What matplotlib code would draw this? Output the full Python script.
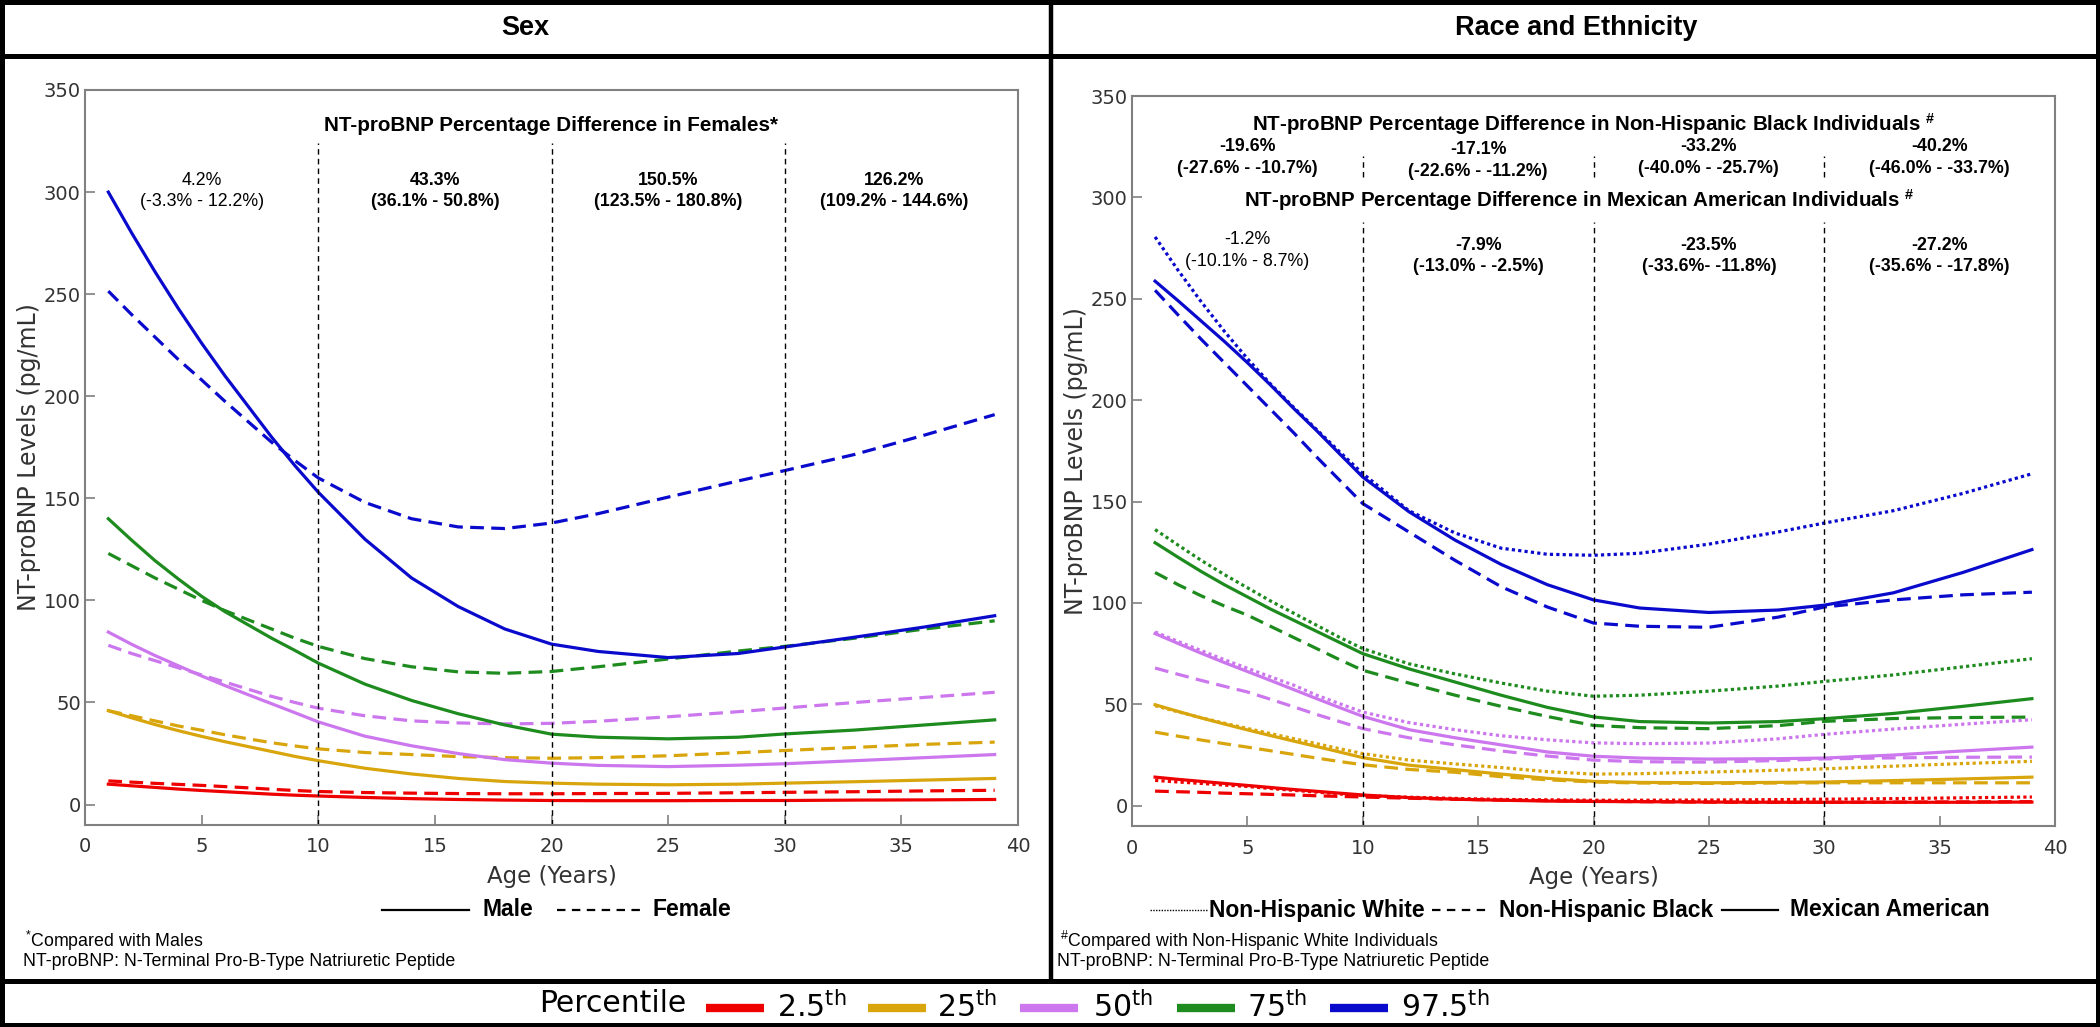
import matplotlib
matplotlib.use('Agg')
import matplotlib.pyplot as plt

plt.rcParams['mathtext.default'] = 'regular'

ages = [1, 2, 3, 4, 5, 6, 7, 8, 9, 10, 12, 14, 16, 18, 20, 22, 25, 28, 30, 33, 36, 39]

# Sex panel (pg/mL), solid = male, dashed = female
male_p2_5 = [10, 9.2, 8.4, 7.6, 6.9, 6.3, 5.7, 5.1, 4.6, 4.2, 3.5, 2.9, 2.5, 2.2, 2.0, 1.9, 1.9, 2.0, 2.0, 2.2, 2.3, 2.5]
female_p2_5 = [11.6, 11, 10.4, 9.9, 9.4, 8.8, 8.2, 7.5, 6.9, 6.4, 5.9, 5.6, 5.4, 5.3, 5.3, 5.4, 5.5, 5.8, 6.0, 6.3, 6.7, 7.0]
male_p25 = [46, 42.5, 39.2, 36.2, 33.4, 30.8, 28.4, 26, 23.6, 21.5, 17.8, 15, 12.8, 11.3, 10.5, 10, 9.7, 10, 10.5, 11.2, 12, 12.8]
female_p25 = [46, 43.5, 41, 38.5, 36.4, 34.2, 32.2, 30.3, 28.7, 27.3, 25.5, 24.5, 23.5, 23, 22.7, 23, 23.9, 25.4, 26.5, 28, 29.5, 30.6]
male_p50 = [84.5, 78.5, 73, 68, 63, 58.3, 53.8, 49.4, 45, 40.5, 33.5, 28.8, 25, 22, 20.3, 19.2, 18.6, 19.3, 20, 21.5, 23, 24.5]
female_p50 = [78, 74, 70.5, 67, 63.5, 60, 56.5, 53, 50, 47.2, 43.5, 41, 40, 39.5, 39.8, 40.8, 43, 45.5, 47.3, 50, 52.5, 55]
male_p75 = [140, 129.5, 119.5, 110.5, 102, 94.5, 88, 81.5, 75.5, 69.3, 59, 51, 44.5, 39, 34.5, 33, 32.2, 33, 34.6, 36.5, 39, 41.5]
female_p75 = [123, 117, 111, 105.5, 100, 95, 90.5, 86, 81.5, 77.5, 71.5, 67.5, 65, 64.3, 65.2, 67.5, 71.3, 75.2, 77.5, 81.5, 86, 90]
male_p97_5 = [300, 280, 261, 243, 226, 210, 195, 180, 166, 153, 130, 111, 97, 86, 78.6, 75, 72, 74, 77.2, 82, 87, 92.5]
female_p97_5 = [251.5, 240, 229, 218, 208, 197.5, 187.5, 177.5, 168.5, 160, 148, 140, 136, 135.2, 137.9, 142.5, 150.6, 158.5, 163.6, 171.5, 181, 191]

# Race and ethnicity panel: dotted = NH White, dashed = NH Black, solid = Mexican American
nhw_p2_5 = [12.5, 11.7, 11, 10.2, 9.5, 8.5, 7.6, 6.7, 5.8, 5.0, 4.2, 3.6, 3.1, 2.9, 2.7, 2.7, 2.8, 3.0, 3.2, 3.5, 3.9, 4.3]
nhb_p2_5 = [7.2, 6.9, 6.6, 6.2, 5.9, 5.6, 5.3, 4.9, 4.6, 4.3, 3.7, 3.2, 2.8, 2.5, 2.2, 2.0, 1.8, 1.7, 1.7, 1.8, 1.9, 2.0]
ma_p2_5 = [14.1, 13, 12, 11, 10, 9, 8, 7.1, 6.2, 5.3, 4.0, 3.2, 2.7, 2.3, 2.1, 2.0, 1.8, 1.7, 1.7, 1.7, 1.7, 1.8]
nhw_p25 = [49.3, 46.3, 43.4, 40.7, 38.1, 35.6, 33.1, 30.6, 28.1, 25.7, 22.5, 20.6, 18.8, 16.8, 15.6, 15.8, 16.6, 17.5, 18.2, 19.5, 20.8, 21.9]
nhb_p25 = [36.3, 34.3, 32.4, 30.6, 28.9, 27.1, 25.3, 23.5, 21.8, 20.2, 17.9, 16.5, 14.3, 12.8, 11.7, 11.2, 11, 11.2, 11.3, 11.3, 11.3, 11.3]
ma_p25 = [49.8, 46.5, 43.3, 40.3, 37.4, 34.6, 31.9, 29.2, 26.5, 23.7, 20, 17.8, 15.6, 13.5, 12, 11.5, 11.3, 11.5, 11.7, 12.4, 13.2, 14.1]
nhw_p50 = [85.7, 81, 76.5, 72, 67.8, 63.6, 59.5, 54.5, 50.3, 46.2, 41, 37.5, 34.5, 32.5, 31, 30.6, 30.9, 33, 35.2, 37.8, 40.2, 42.4]
nhb_p50 = [67.9, 64.8, 61.8, 58.9, 56.1, 52.5, 48.8, 45, 41.5, 38, 33.5, 30, 27, 24.5, 22.5, 21.7, 21.5, 22.3, 23.1, 23.6, 23.9, 24]
ma_p50 = [84.9, 80, 75.2, 70.6, 66.2, 61.8, 57.3, 52.8, 48.4, 44.1, 37.5, 33.5, 30, 26.5, 24.4, 23.5, 23, 23.2, 23.5, 25, 27, 28.9]
nhw_p75 = [136.2, 128.5, 121, 114, 107.5, 101, 95, 89, 83, 77.5, 70, 65, 60.5, 56.5, 54, 54.5, 56.5, 59, 61.3, 64.5, 68.5, 72.5]
nhb_p75 = [115, 109, 103.5, 98.5, 94, 88.5, 83, 77.5, 72, 66.8, 60.5, 54.5, 49, 44, 39.6, 38.5, 38, 39.5, 41.6, 43, 43.5, 43.7]
ma_p75 = [129.7, 122.5, 115.5, 109, 103, 97, 91.5, 86, 80.5, 75, 67.5, 61, 54.5, 48.5, 43.8, 41.5, 40.8, 41.5, 42.9, 45.5, 49, 52.8]
nhw_p97_5 = [280.5, 264, 248.5, 234, 220.5, 208, 196.5, 185.5, 174.5, 163.8, 145.5, 134.5, 127, 124, 123.5, 124.5, 129, 135, 139.4, 145.5, 154, 163.7]
nhb_p97_5 = [254.2, 242, 230, 218.5, 207, 195.5, 184, 172, 160.5, 149, 135, 121, 108, 98, 90.1, 88.5, 88, 93, 98, 101.5, 104, 105.3]
ma_p97_5 = [258.7, 249, 239, 229, 218.5, 207.5, 196, 185, 173.5, 162.1, 145, 131, 119, 109, 101.5, 97.5, 95.3, 96.5, 98.9, 105, 115, 126.3]

cut_ages = [10, 20, 30]
percentile_labels = ['2.5', '25', '50', '75', '97.5']
colors = ['#EE0000', '#D9A50D', '#CC77EE', '#1E8B1E', '#0A0ACD']

sex_cols = [5, 15, 25, 34.7]
sex_pct = ['4.2%', '43.3%', '150.5%', '126.2%']
sex_ci = ['(-3.3% - 12.2%)', '(36.1% - 50.8%)', '(123.5% - 180.8%)', '(109.2% - 144.6%)']
race_cols = [5, 15, 25, 35]
nhb_pct = ['-19.6%', '-17.1%', '-33.2%', '-40.2%']
nhb_ci = ['(-27.6% - -10.7%)', '(-22.6% - -11.2%)', '(-40.0% - -25.7%)', '(-46.0% - -33.7%)']
ma_pct = ['-1.2%', '-7.9%', '-23.5%', '-27.2%']
ma_ci = ['(-10.1% - 8.7%)', '(-13.0% - -2.5%)', '(-33.6%- -11.8%)', '(-35.6% - -17.8%)']

W, H = 2100, 1027
fig = plt.figure(figsize=(21, 10.27), dpi=100)

# frame axes in pixel coordinates (y down)
fr = fig.add_axes([0, 0, 1, 1])
fr.set_xlim(0, W)
fr.set_ylim(H, 0)
fr.axis('off')

AR = 'Liberation Sans'
DASH = (0, (4.3, 2.3))
DOT = (0, (1, 1))
LW = 2.3


def style_axes(ax):
    ax.set_xlim(0, 40)
    ax.set_ylim(-10, 350)
    ax.set_xticks(range(0, 41, 5))
    ax.set_yticks(range(0, 351, 50))
    for s in ax.spines.values():
        s.set_color('#808080')
        s.set_linewidth(1.5)
    ax.tick_params(direction='in', length=7, width=1.2, color='#808080',
                   labelsize=14, labelcolor='#333333')
    ax.tick_params(axis='x', pad=9)
    ax.tick_params(axis='y', pad=3)
    ax.set_xlabel('Age (Years)', fontsize=16.5, color='#333333', labelpad=6)
    ax.set_ylabel('NT-proBNP Levels (pg/mL)', fontsize=17, color='#333333', labelpad=2)


# ---- Sex panel
ax1 = fig.add_axes([85 / W, 1 - 825 / H, 933 / W, 735 / H])
style_axes(ax1)
males = [male_p2_5, male_p25, male_p50, male_p75, male_p97_5]
females = [female_p2_5, female_p25, female_p50, female_p75, female_p97_5]
for c, m, f in zip(colors, males, females):
    ax1.plot(ages, f, color=c, lw=LW, ls=DASH)
    ax1.plot(ages, m, color=c, lw=LW)
ax1.vlines(cut_ages, -10, 324, colors='black', lw=1, linestyles=(0, (4, 3)))
ax1.text(20, 332.7, 'NT-proBNP Percentage Difference in Females*', ha='center', va='center',
         fontsize=14.9, fontweight='bold', family=AR)
for i, (x, p, ci) in enumerate(zip(sex_cols, sex_pct, sex_ci)):
    fw = 'normal' if i == 0 else 'bold'
    ax1.text(x, 305.6, p, ha='center', va='center', fontsize=12.8, fontweight=fw, family=AR)
    ax1.text(x, 295.2, ci, ha='center', va='center', fontsize=12.8, fontweight=fw, family=AR)

# ---- Race and ethnicity panel
ax2 = fig.add_axes([1132 / W, 1 - 826 / H, 923 / W, 730 / H])
style_axes(ax2)
nhw = [nhw_p2_5, nhw_p25, nhw_p50, nhw_p75, nhw_p97_5]
nhb = [nhb_p2_5, nhb_p25, nhb_p50, nhb_p75, nhb_p97_5]
ma = [ma_p2_5, ma_p25, ma_p50, ma_p75, ma_p97_5]
for c, a, b, m in zip(colors, nhw, nhb, ma):
    ax2.plot(ages, b, color=c, lw=LW, ls=DASH)
    ax2.plot(ages, a, color=c, lw=LW, ls=DOT)
    ax2.plot(ages, m, color=c, lw=LW)
ax2.vlines(cut_ages, 310, 320.5, colors='black', lw=1, linestyles=(0, (4, 3)))
ax2.vlines(cut_ages, -10, 288, colors='black', lw=1, linestyles=(0, (4, 3)))
ax2.text(20, 336.4, r'NT-proBNP Percentage Difference in Non-Hispanic Black Individuals $^{\#}$',
         ha='center', va='center', fontsize=14.8, fontweight='bold', family=AR)
ax2.text(19.4, 298.5, r'NT-proBNP Percentage Difference in Mexican American Individuals $^{\#}$',
         ha='center', va='center', fontsize=14.8, fontweight='bold', family=AR)
for i, (x, p, ci) in enumerate(zip(race_cols, nhb_pct, nhb_ci)):
    dy = -1.3 if i == 1 else 0
    ax2.text(x, 325 + dy, p, ha='center', va='center', fontsize=12.8, fontweight='bold', family=AR)
    ax2.text(x, 314.3 + dy, ci, ha='center', va='center', fontsize=12.8, fontweight='bold', family=AR)
for i, (x, p, ci) in enumerate(zip(race_cols, ma_pct, ma_ci)):
    fw = 'normal' if i == 0 else 'bold'
    dy = 2.8 if i == 0 else 0
    ax2.text(x, 276.5 + dy, p, ha='center', va='center', fontsize=12.8, fontweight=fw, family=AR)
    ax2.text(x, 265.8 + dy, ci, ha='center', va='center', fontsize=12.8, fontweight=fw, family=AR)

# ---- borders
fr.add_patch(plt.Rectangle((2, 2), W - 4, H - 4, fill=False, ec='black', lw=3.6))
fr.plot([0, W], [55.5, 55.5], color='black', lw=3.6)
fr.plot([0, W], [981, 981], color='black', lw=3.6)
fr.plot([1051, 1051], [0, 981], color='black', lw=3.2)

fr.text(525, 28, 'Sex', ha='center', va='center', fontsize=19.5, fontweight='bold', family=AR)
fr.text(1576, 28, 'Race and Ethnicity', ha='center', va='center', fontsize=19.5, fontweight='bold', family=AR)

# ---- in-panel legends
fr.plot([382, 469], [910, 910], color='black', lw=1.6)
fr.text(483, 910, 'Male', ha='left', va='center', fontsize=16.5, fontweight='bold', family=AR)
fr.plot([557, 643], [910, 910], color='black', lw=1.6, ls=(0, (3.8, 2.9)))
fr.text(653, 910, 'Female', ha='left', va='center', fontsize=16.5, fontweight='bold', family=AR)

fr.plot([1150, 1207], [910, 910], color='black', lw=1, ls=(0, (1, 1)))
fr.text(1209, 910, 'Non-Hispanic White', ha='left', va='center', fontsize=16.5, fontweight='bold', family=AR)
fr.plot([1432, 1489], [910, 910], color='black', lw=1.6, ls=(0, (3.8, 2.9)))
fr.text(1499, 910, 'Non-Hispanic Black', ha='left', va='center', fontsize=16.5, fontweight='bold', family=AR)
fr.plot([1722, 1778], [910, 910], color='black', lw=1.6)
fr.text(1790, 910, 'Mexican American', ha='left', va='center', fontsize=16.5, fontweight='bold', family=AR)

# ---- footnotes
fr.text(25, 941, r'$^{*}$Compared with Males', ha='left', va='center', fontsize=12.8, family=AR)
fr.text(23, 962, 'NT-proBNP: N-Terminal Pro-B-Type Natriuretic Peptide', ha='left', va='center',
        fontsize=12.8, family=AR)
fr.text(1060, 941, r'$^{\#}$Compared with Non-Hispanic White Individuals', ha='left', va='center',
        fontsize=12.8, family=AR)
fr.text(1057, 962, 'NT-proBNP: N-Terminal Pro-B-Type Natriuretic Peptide', ha='left', va='center',
        fontsize=12.8, family=AR)

# ---- percentile legend
fr.text(613, 1012, 'Percentile', ha='center', va='baseline', fontsize=21.5)
bar_x = [706, 868, 1020, 1177, 1330]
lab_x = [777, 937, 1093, 1247, 1401]
for c, bx, lx, lab in zip(colors, bar_x, lab_x, percentile_labels):
    fr.plot([bx, bx + 58], [1008, 1008], color=c, lw=6, solid_capstyle='butt')
    fr.text(lx, 1017, lab + r'$^{th}$', ha='left', va='baseline', fontsize=21.5)

fig.savefig('out.png', dpi=100)
